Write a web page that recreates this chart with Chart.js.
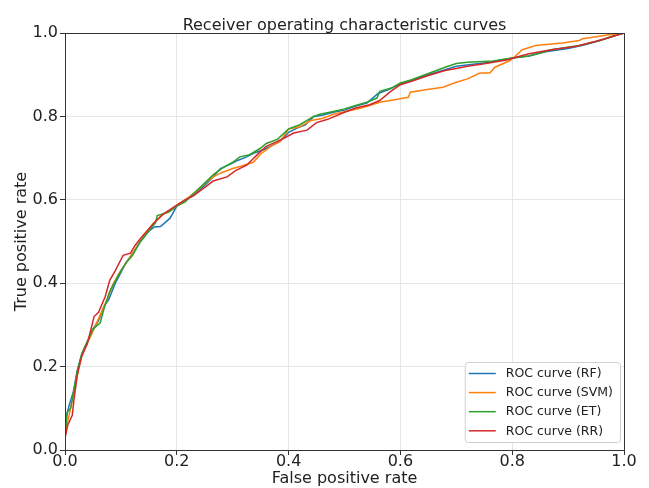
<!DOCTYPE html>
<html>
<head>
<meta charset="utf-8">
<script src="https://cdn.jsdelivr.net/npm/chart.js@4.4.1/dist/chart.umd.min.js"></script>
<style>
  html, body { margin: 0; padding: 0; background: #fff; }
  #wrap { width: 649px; height: 488px; }
</style>
</head>
<body>
<div id="wrap"><canvas id="roc" width="649" height="488"></canvas></div>
<script>
// ROC curves, [false positive rate, true positive rate]
const chartTitle = 'Receiver operating characteristic curves';
const seriesLabels = ['ROC curve (RF)', 'ROC curve (SVM)', 'ROC curve (ET)', 'ROC curve (RR)'];
const seriesColors = ['#1f77b4', '#ff7f0e', '#2ca02c', '#d62728'];
const axisTicks = [0, 0.2, 0.4, 0.6, 0.8, 1.0];

const rfPoints = [
  [0, 0.02], [0.003, 0.085], [0.008, 0.11], [0.015, 0.14], [0.022, 0.19], [0.03, 0.23],
  [0.04, 0.26], [0.05, 0.29], [0.06, 0.31], [0.07, 0.345], [0.078, 0.36], [0.09, 0.40],
  [0.1, 0.425], [0.108, 0.447], [0.12, 0.47], [0.135, 0.5], [0.15, 0.525], [0.16, 0.535],
  [0.171, 0.536], [0.188, 0.556], [0.2, 0.585], [0.215, 0.6], [0.23, 0.61], [0.25, 0.635],
  [0.265, 0.655], [0.278, 0.675], [0.295, 0.685], [0.31, 0.695], [0.325, 0.703], [0.34, 0.713],
  [0.355, 0.72], [0.37, 0.73], [0.385, 0.74], [0.4, 0.762], [0.415, 0.772], [0.43, 0.78],
  [0.445, 0.80], [0.46, 0.803], [0.48, 0.81], [0.5, 0.815], [0.52, 0.825], [0.54, 0.832],
  [0.56, 0.855], [0.58, 0.865], [0.6, 0.878], [0.62, 0.886], [0.65, 0.9], [0.68, 0.912],
  [0.7, 0.92], [0.73, 0.925], [0.76, 0.93], [0.8, 0.94], [0.83, 0.945], [0.86, 0.955],
  [0.9, 0.963], [0.93, 0.972], [0.96, 0.983], [0.98, 0.992], [1, 1]
];

const svmPoints = [
  [0, 0.03], [0.005, 0.07], [0.01, 0.1], [0.018, 0.15], [0.025, 0.2], [0.033, 0.24],
  [0.045, 0.27], [0.055, 0.3], [0.065, 0.33], [0.075, 0.36], [0.085, 0.395], [0.095, 0.42],
  [0.105, 0.44], [0.115, 0.46], [0.13, 0.49], [0.145, 0.52], [0.16, 0.545], [0.175, 0.565],
  [0.19, 0.575], [0.2, 0.587], [0.215, 0.6], [0.235, 0.62], [0.25, 0.64], [0.265, 0.655],
  [0.28, 0.665], [0.3, 0.675], [0.313, 0.68], [0.337, 0.69], [0.35, 0.71], [0.37, 0.73],
  [0.385, 0.74], [0.4, 0.77], [0.42, 0.775], [0.44, 0.79], [0.46, 0.795], [0.48, 0.805],
  [0.51, 0.814], [0.53, 0.82], [0.545, 0.826], [0.563, 0.834], [0.59, 0.84], [0.614, 0.846],
  [0.618, 0.858], [0.645, 0.864], [0.676, 0.87], [0.7, 0.882], [0.72, 0.89], [0.742, 0.904],
  [0.76, 0.904], [0.769, 0.918], [0.796, 0.934], [0.807, 0.946], [0.818, 0.96], [0.842, 0.97],
  [0.89, 0.976], [0.92, 0.982], [0.926, 0.986], [0.944, 0.99], [0.97, 0.995], [1, 1]
];

const etPoints = [
  [0, 0.04], [0.004, 0.09], [0.01, 0.1], [0.016, 0.144], [0.022, 0.19], [0.03, 0.23],
  [0.04, 0.26], [0.05, 0.29], [0.063, 0.305], [0.07, 0.34], [0.08, 0.38], [0.09, 0.405],
  [0.1, 0.43], [0.11, 0.45], [0.12, 0.465], [0.135, 0.5], [0.15, 0.525], [0.162, 0.545],
  [0.165, 0.562], [0.185, 0.57], [0.2, 0.585], [0.215, 0.595], [0.23, 0.615], [0.25, 0.64],
  [0.265, 0.66], [0.28, 0.675], [0.3, 0.69], [0.313, 0.703], [0.33, 0.708], [0.349, 0.723],
  [0.36, 0.735], [0.38, 0.745], [0.4, 0.77], [0.42, 0.78], [0.445, 0.80], [0.456, 0.805],
  [0.48, 0.812], [0.5, 0.818], [0.52, 0.826], [0.54, 0.834], [0.558, 0.844], [0.563, 0.86],
  [0.584, 0.868], [0.6, 0.88], [0.62, 0.888], [0.65, 0.903], [0.68, 0.918], [0.7, 0.927],
  [0.72, 0.93], [0.766, 0.933], [0.8, 0.94], [0.83, 0.945], [0.87, 0.96], [0.92, 0.97],
  [0.957, 0.982], [0.98, 0.992], [1, 1]
];

const rrPoints = [
  [0, 0.03], [0.005, 0.06], [0.013, 0.083], [0.016, 0.12], [0.022, 0.18], [0.03, 0.225],
  [0.04, 0.255], [0.052, 0.32], [0.06, 0.33], [0.072, 0.368], [0.08, 0.407], [0.09, 0.43],
  [0.104, 0.467], [0.117, 0.472], [0.125, 0.49], [0.135, 0.507], [0.158, 0.543], [0.175, 0.565],
  [0.2, 0.587], [0.215, 0.6], [0.23, 0.61], [0.25, 0.63], [0.265, 0.645], [0.29, 0.655],
  [0.305, 0.67], [0.325, 0.683], [0.349, 0.715], [0.36, 0.728], [0.38, 0.74], [0.395, 0.75],
  [0.409, 0.76], [0.433, 0.767], [0.45, 0.785], [0.47, 0.793], [0.5, 0.81], [0.52, 0.82],
  [0.545, 0.828], [0.563, 0.838], [0.581, 0.858], [0.6, 0.876], [0.62, 0.884], [0.65, 0.898],
  [0.68, 0.91], [0.7, 0.915], [0.72, 0.92], [0.75, 0.926], [0.79, 0.935], [0.81, 0.943],
  [0.83, 0.95], [0.87, 0.96], [0.915, 0.968], [0.95, 0.98], [0.975, 0.99], [1, 1]
];

const seriesPoints = [rfPoints, svmPoints, etPoints, rrPoints];

const FONT = '"DejaVu Sans", sans-serif';

// 枠線（上下左右）とプロット中央のタイトル
const frame = {
  id: 'frame',
  afterDatasetsDraw(chart) {
    const { ctx, chartArea: a } = chart;
    ctx.save();
    ctx.strokeStyle = '#333';
    ctx.lineWidth = 1;
    ctx.strokeRect(Math.round(a.left) + 0.5, Math.round(a.top) + 0.5,
      Math.round(a.right - a.left), Math.round(a.bottom - a.top));
    ctx.fillStyle = '#222';
    ctx.font = '16px ' + FONT;
    ctx.textAlign = 'center';
    ctx.textBaseline = 'alphabetic';
    ctx.fillText(chartTitle, (a.left + a.right) / 2, a.top - 3.5);
    ctx.restore();
  }
};

// matplotlib風の凡例（プロット内右下）
const insideLegend = {
  id: 'insideLegend',
  afterDraw(chart) {
    const { ctx, chartArea: a } = chart;
    const sets = chart.data.datasets;
    ctx.save();
    ctx.font = '12.5px ' + FONT;
    let textW = 0;
    sets.forEach(d => { textW = Math.max(textW, ctx.measureText(d.label).width); });
    const rowH = 19.1;
    const w = 4 + 27 + 10 + textW + 7;
    const h = 80;
    const x = a.right - 4 - w;
    const y = a.bottom - 8 - h;
    ctx.fillStyle = 'rgba(255,255,255,0.85)';
    ctx.strokeStyle = '#d0d0d0';
    ctx.lineWidth = 1;
    ctx.beginPath();
    ctx.roundRect(x + 0.5, y + 0.5, w, h, 3);
    ctx.fill();
    ctx.stroke();
    ctx.textBaseline = 'middle';
    sets.forEach((d, i) => {
      const cy = y + 11.5 + i * rowH;
      ctx.strokeStyle = d.borderColor;
      ctx.lineWidth = 1.5;
      ctx.beginPath();
      ctx.moveTo(x + 4, cy);
      ctx.lineTo(x + 31, cy);
      ctx.stroke();
      ctx.fillStyle = '#222';
      ctx.fillText(d.label, x + 41, cy + 0.5);
    });
    ctx.restore();
  }
};

const axisCommon = {
  type: 'linear',
  min: 0,
  max: 1,
  afterBuildTicks: (scale) => { scale.ticks = axisTicks.map(v => ({ value: v })); },
  grid: {
    color: '#e6e6e6',
    lineWidth: 1,
    drawTicks: true,
    tickLength: 5,
    tickColor: '#333'
  },
  border: { display: false },
  ticks: {
    color: '#222',
    font: { family: FONT, size: 16, lineHeight: 1 },
    callback: (v) => Number(v).toFixed(1)
  }
};

new Chart(document.getElementById('roc'), {
  type: 'line',
  data: {
    datasets: seriesPoints.map((pts, i) => ({
      label: seriesLabels[i],
      data: pts.map(([x, y]) => ({ x, y })),
      borderColor: seriesColors[i],
      backgroundColor: seriesColors[i],
      borderWidth: 1.5,
      pointRadius: 0,
      tension: 0,
      fill: false,
      order: seriesPoints.length - 1 - i
    }))
  },
  options: {
    responsive: false,
    animation: false,
    layout: { padding: { left: 0, right: 25, top: 33, bottom: 0 } },
    plugins: {
      legend: { display: false },
      tooltip: { enabled: false },
      title: { display: false }
    },
    scales: {
      x: {
        ...axisCommon,
        position: 'bottom',
        ticks: { ...axisCommon.ticks, padding: -1, maxRotation: 0 },
        title: {
          display: true,
          text: 'False positive rate',
          color: '#222',
          font: { family: FONT, size: 16, lineHeight: 1 },
          padding: { top: 0, bottom: 1 }
        },
        afterFit: (scale) => { scale.height = 38; }
      },
      y: {
        ...axisCommon,
        position: 'left',
        ticks: { ...axisCommon.ticks, padding: 2 },
        title: {
          display: true,
          text: 'True positive rate',
          color: '#222',
          font: { family: FONT, size: 16, lineHeight: 1 },
          padding: { top: 14, bottom: 0 }
        },
        afterFit: (scale) => { scale.width = 65; }
      }
    }
  },
  plugins: [frame, insideLegend]
});
</script>
</body>
</html>
